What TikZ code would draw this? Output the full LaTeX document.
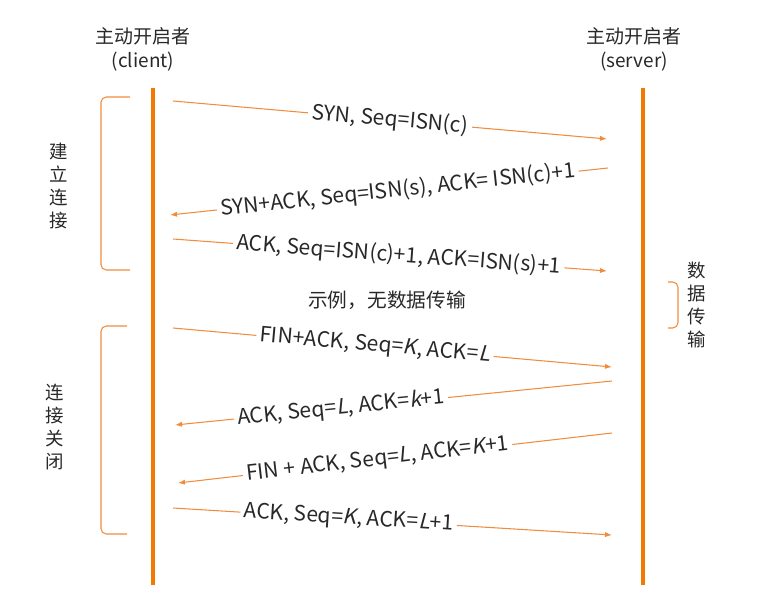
\documentclass[tikz,border=0pt]{standalone}
\usepackage{fontspec}
\setmainfont{Noto Sans CJK SC}[AutoFakeSlant=0.2]
\usetikzlibrary{arrows.meta}
\definecolor{lifeorange}{RGB}{242,122,0}
\definecolor{msgorange}{RGB}{240,140,60}
\definecolor{txtgray}{RGB}{40,40,40}

\begin{document}
\begin{tikzpicture}[
    x=0.02cm, y=-0.02cm,
    lifeline/.style={draw=lifeorange, line width=2.4pt},
    msg/.style={draw=msgorange, line width=0.6pt, -{Latex[length=4pt,width=3pt]}},
    bracket/.style={draw=msgorange, line width=0.6pt, rounded corners=3pt},
    lbl/.style={sloped, fill=white, inner sep=2pt, text=txtgray, font=\fontsize{12}{14}\selectfont},
    head/.style={align=center, text=txtgray, font=\fontsize{10.8}{13.6}\selectfont},
    side/.style={align=center, text=txtgray, font=\fontsize{10.5}{13}\selectfont},
]
\useasboundingbox (0,0) rectangle (770,604);

\node[head] (client) at (143,49) {主动开启者\\(client)};
\node[head] (server) at (634,49) {主动开启者\\(server)};

\coordinate (ctop) at (153,88);
\coordinate (cbot) at (153,585);
\coordinate (stop) at (643,88);
\coordinate (sbot) at (643,585);
\draw[lifeline] (ctop) -- (cbot);
\draw[lifeline] (stop) -- (sbot);

\coordinate (b1a) at (130,97);
\coordinate (b1b) at (130,270);
\draw[bracket] (b1a) -- (101,97) -- (101,270) -- (b1b);
\node[side] (setup) at (59,186) {建\\立\\连\\接};

\coordinate (b2a) at (127,326);
\coordinate (b2b) at (127,534);
\draw[bracket] (b2a) -- (101,326) -- (101,534) -- (b2b);
\node[side] (close) at (55,427) {连\\接\\关\\闭};

\coordinate (b3a) at (668,282);
\coordinate (b3b) at (668,328);
\draw[bracket] (b3a) -- (678,282) -- (678,328) -- (b3b);
\node[side] (data) at (697,305) {数\\据\\传\\输};

\coordinate (c1) at (173,101); \coordinate (s1) at (607,139);
\draw[msg] (c1) -- node[lbl, pos=0.50] (syn) {SYN, Seq=ISN(c)} (s1);

\coordinate (s2) at (608,168); \coordinate (c2) at (170,215);
\draw[msg] (s2) -- node[lbl, pos=0.48] (synack) {SYN+ACK, Seq=ISN(s), ACK= ISN(c)+1} (c2);

\coordinate (c3) at (173,239); \coordinate (s3) at (607,271);
\draw[msg] (c3) -- node[lbl, pos=0.52] (ack) {ACK, Seq=ISN(c)+1, ACK=ISN(s)+1} (s3);

\node[head, font=\fontsize{11.2}{13}\selectfont] (nodata) at (387,300) {示例，无数据传输};

\coordinate (c4) at (173,328); \coordinate (s4) at (612,367);
\draw[msg] (c4) -- node[lbl, pos=0.46] (finack) {FIN+ACK, Seq=\textit{K}, ACK=\textit{L}} (s4);

\coordinate (s5) at (612,381); \coordinate (c5) at (175,425);
\draw[msg] (s5) -- node[lbl, pos=0.62] (ackk) {ACK, Seq=\textit{L}, ACK=\textit{k}+1} (c5);

\coordinate (s6) at (612,433); \coordinate (c6) at (178,483);
\draw[msg] (s6) -- node[lbl, pos=0.54] (finack2) {FIN + ACK, Seq=\textit{L}, ACK=\textit{K}+1} (c6);

\coordinate (c7) at (173,508); \coordinate (s7) at (612,535);
\draw[msg] (c7) -- node[lbl, pos=0.40] (lastack) {ACK, Seq=\textit{K}, ACK=\textit{L}+1} (s7);

\end{tikzpicture}
\end{document}
